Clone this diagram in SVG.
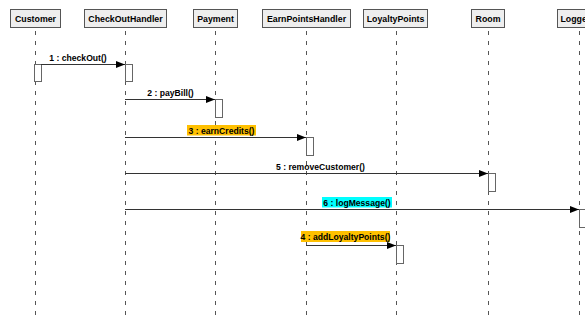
<svg xmlns="http://www.w3.org/2000/svg" width="585" height="321" viewBox="0 0 585 321">
<defs>
<style>
.hdr{fill:#eeeeee;stroke:#555;stroke-width:1}
.ht{font-family:"Liberation Sans",Arial,sans-serif;font-size:8.8px;font-weight:bold;fill:#000;text-anchor:middle}
.ll{stroke:#555;stroke-width:1;stroke-dasharray:4,6}
.act{fill:#fff;stroke:#666;stroke-width:1}
.msg{stroke:#333;stroke-width:1;fill:none}
.mt{font-family:"Liberation Sans",Arial,sans-serif;font-size:8.6px;font-weight:bold;fill:#000;text-anchor:middle}
</style>
<marker id="arr" markerWidth="9" markerHeight="7" refX="9" refY="3.5" orient="auto" markerUnits="userSpaceOnUse">
<path d="M0,0 L9,3.5 L0,7 z" fill="#000"/>
</marker>
</defs>
<rect width="585" height="321" fill="#fff"/>
<g id="lifelines">
<line class="ll" x1="35.5" y1="31" x2="35.5" y2="321"/>
<line class="ll" x1="125.5" y1="31" x2="125.5" y2="321"/>
<line class="ll" x1="215.5" y1="31" x2="215.5" y2="321"/>
<line class="ll" x1="306.5" y1="31" x2="306.5" y2="321"/>
<line class="ll" x1="396.5" y1="31" x2="396.5" y2="321"/>
<line class="ll" x1="488.5" y1="31" x2="488.5" y2="321"/>
<line class="ll" x1="579.5" y1="31" x2="579.5" y2="321"/>
</g>
<g id="Customer"><rect class="hdr" x="10.5" y="9.5" width="50" height="18"/><text class="ht" x="35.5" y="21.5">Customer</text></g>
<g id="CheckOutHandler"><rect class="hdr" x="84.5" y="9.5" width="82" height="18"/><text class="ht" x="125.5" y="21.5">CheckOutHandler</text></g>
<g id="Payment"><rect class="hdr" x="193.5" y="9.5" width="44" height="18"/><text class="ht" x="215.5" y="21.5">Payment</text></g>
<g id="EarnPointsHandler"><rect class="hdr" x="262.5" y="9.5" width="88" height="18"/><text class="ht" x="306.5" y="21.5">EarnPointsHandler</text></g>
<g id="LoyaltyPoints"><rect class="hdr" x="363.5" y="9.5" width="64" height="18"/><text class="ht" x="395.5" y="21.5">LoyaltyPoints</text></g>
<g id="Room"><rect class="hdr" x="471.5" y="9.5" width="33" height="18"/><text class="ht" x="488" y="21.5">Room</text></g>
<g id="Logger"><rect class="hdr" x="557.5" y="9.5" width="44" height="18"/><text class="ht" x="560.5" y="21.5" style="text-anchor:start">Logger</text></g>
<g id="activations">
<rect class="act" x="34.5" y="64.5" width="7" height="17"/>
<rect class="act" x="125.5" y="64.5" width="7" height="17"/>
<rect class="act" x="215.5" y="99.5" width="7" height="18"/>
<rect class="act" x="306.5" y="137.5" width="7" height="18"/>
<rect class="act" x="488.5" y="173.5" width="7" height="18"/>
<rect class="act" x="579.5" y="209.5" width="7" height="18"/>
<rect class="act" x="396.5" y="245.5" width="7" height="18"/>
</g>
<g id="connectors">
<line class="msg" x1="41" y1="64.5" x2="125" y2="64.5" marker-end="url(#arr)"/>
<text class="mt" x="78" y="61">1 : checkOut()</text>
<line class="msg" x1="125" y1="99.5" x2="215" y2="99.5" marker-end="url(#arr)"/>
<text class="mt" x="170.5" y="96">2 : payBill()</text>
<line class="msg" x1="125" y1="137.5" x2="306" y2="137.5" marker-end="url(#arr)"/>
<rect x="187" y="125" width="69" height="10.5" fill="#ffc000"/>
<text class="mt" x="221.5" y="133.5">3 : earnCredits()</text>
<line class="msg" x1="125" y1="173.5" x2="488" y2="173.5" marker-end="url(#arr)"/>
<text class="mt" x="320.5" y="170">5 : removeCustomer()</text>
<line class="msg" x1="125" y1="209.5" x2="579" y2="209.5" marker-end="url(#arr)"/>
<rect x="322" y="197" width="70" height="10.5" fill="#00ffff"/>
<text class="mt" x="357" y="205.5">6 : logMessage()</text>
<line class="msg" x1="306" y1="245.5" x2="396" y2="245.5" marker-end="url(#arr)"/>
<rect x="301" y="231" width="89" height="11" fill="#ffc000"/>
<text class="mt" x="345.5" y="239.5">4 : addLoyaltyPoints()</text>
</g>
</svg>
